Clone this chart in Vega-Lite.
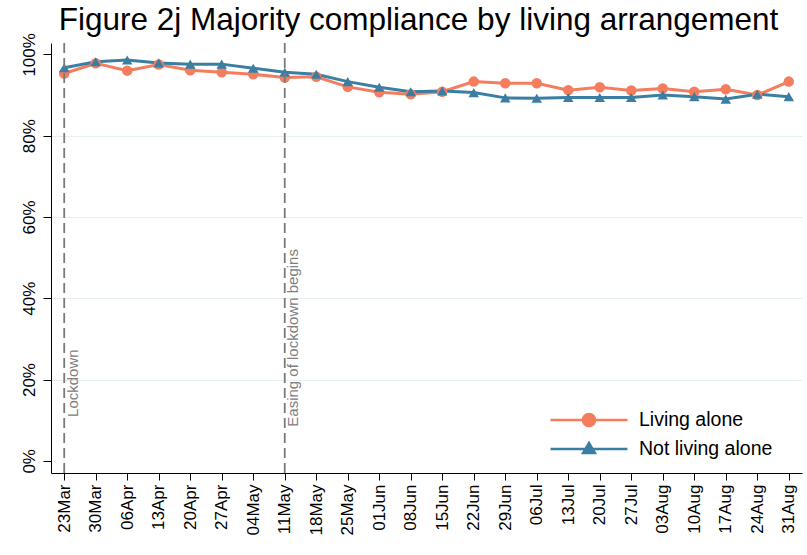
{
  "$schema": "https://vega.github.io/schema/vega-lite/v6.json",
  "width": 751,
  "height": 430,
  "autosize": {"type": "none"},
  "padding": {"left": 51, "top": 43, "right": 5, "bottom": 82},
  "background": "white",
  "title": {
    "text": "Figure 2j Majority compliance by living arrangement",
    "font": "Liberation Sans",
    "fontSize": 31.5,
    "fontWeight": "normal",
    "color": "#000000",
    "anchor": "middle",
    "baseline": "alphabetic",
    "offset": 11,
    "dx": -8,
    "dy": 40
  },
  "config": {
    "view": {"stroke": null},
    "font": "Liberation Sans",
    "axis": {"labelFont": "Liberation Sans"},
    "legend": {"labelFont": "Liberation Sans"}
  },
  "datasets": {
    "series": [
      {"week": "23Mar", "group": "Living alone", "pct": 95.3},
      {"week": "30Mar", "group": "Living alone", "pct": 97.8},
      {"week": "06Apr", "group": "Living alone", "pct": 96.0},
      {"week": "13Apr", "group": "Living alone", "pct": 97.5},
      {"week": "20Apr", "group": "Living alone", "pct": 96.1},
      {"week": "27Apr", "group": "Living alone", "pct": 95.6},
      {"week": "04May", "group": "Living alone", "pct": 95.1},
      {"week": "11May", "group": "Living alone", "pct": 94.3},
      {"week": "18May", "group": "Living alone", "pct": 94.5},
      {"week": "25May", "group": "Living alone", "pct": 92.0},
      {"week": "01Jun", "group": "Living alone", "pct": 90.7},
      {"week": "08Jun", "group": "Living alone", "pct": 90.2},
      {"week": "15Jun", "group": "Living alone", "pct": 90.8},
      {"week": "22Jun", "group": "Living alone", "pct": 93.3},
      {"week": "29Jun", "group": "Living alone", "pct": 92.9},
      {"week": "06Jul", "group": "Living alone", "pct": 92.9},
      {"week": "13Jul", "group": "Living alone", "pct": 91.2},
      {"week": "20Jul", "group": "Living alone", "pct": 91.9},
      {"week": "27Jul", "group": "Living alone", "pct": 91.1},
      {"week": "03Aug", "group": "Living alone", "pct": 91.6},
      {"week": "10Aug", "group": "Living alone", "pct": 90.8},
      {"week": "17Aug", "group": "Living alone", "pct": 91.4},
      {"week": "24Aug", "group": "Living alone", "pct": 90.0},
      {"week": "31Aug", "group": "Living alone", "pct": 93.3},
      {"week": "23Mar", "group": "Not living alone", "pct": 96.7},
      {"week": "30Mar", "group": "Not living alone", "pct": 98.2},
      {"week": "06Apr", "group": "Not living alone", "pct": 98.6},
      {"week": "13Apr", "group": "Not living alone", "pct": 97.9},
      {"week": "20Apr", "group": "Not living alone", "pct": 97.6},
      {"week": "27Apr", "group": "Not living alone", "pct": 97.6},
      {"week": "04May", "group": "Not living alone", "pct": 96.6},
      {"week": "11May", "group": "Not living alone", "pct": 95.6},
      {"week": "18May", "group": "Not living alone", "pct": 95.1},
      {"week": "25May", "group": "Not living alone", "pct": 93.3},
      {"week": "01Jun", "group": "Not living alone", "pct": 91.9},
      {"week": "08Jun", "group": "Not living alone", "pct": 90.8},
      {"week": "15Jun", "group": "Not living alone", "pct": 91.0},
      {"week": "22Jun", "group": "Not living alone", "pct": 90.6},
      {"week": "29Jun", "group": "Not living alone", "pct": 89.3},
      {"week": "06Jul", "group": "Not living alone", "pct": 89.2},
      {"week": "13Jul", "group": "Not living alone", "pct": 89.4},
      {"week": "20Jul", "group": "Not living alone", "pct": 89.4},
      {"week": "27Jul", "group": "Not living alone", "pct": 89.4},
      {"week": "03Aug", "group": "Not living alone", "pct": 90.0},
      {"week": "10Aug", "group": "Not living alone", "pct": 89.6},
      {"week": "17Aug", "group": "Not living alone", "pct": 89.0},
      {"week": "24Aug", "group": "Not living alone", "pct": 90.2},
      {"week": "31Aug", "group": "Not living alone", "pct": 89.6}
    ],
    "events": [
      {"week": "23Mar", "label": "Lockdown"},
      {"week": "11May", "label": "Easing of lockdown begins"}
    ]
  },
  "encoding": {
    "x": {
      "field": "week",
      "type": "ordinal",
      "sort": null,
      "scale": {"type": "point", "padding": 0.42,
        "domain": ["23Mar","30Mar","06Apr","13Apr","20Apr","27Apr","04May","11May","18May","25May","01Jun","08Jun","15Jun","22Jun","29Jun","06Jul","13Jul","20Jul","27Jul","03Aug","10Aug","17Aug","24Aug","31Aug"]},
      "axis": {
        "title": null,
        "labelAngle": -90,
        "labelFont": "Liberation Sans",
        "labelFontSize": 17,
        "labelColor": "#000000",
        "labelPadding": 4,
        "tickSize": 7,
        "tickColor": "#000000",
        "domainColor": "#000000",
        "tickWidth": 1,
        "domainWidth": 1,
        "grid": false
      }
    }
  },
  "layer": [
    {
      "data": {"name": "series"},
      "mark": {"type": "line", "strokeWidth": 3},
      "encoding": {
        "y": {
          "field": "pct",
          "type": "quantitative",
          "scale": {"domain": [-3, 102.8], "nice": false, "zero": false},
          "axis": {
            "title": null,
            "values": [0, 20, 40, 60, 80, 100],
            "labelExpr": "datum.value + '%'",
            "labelAngle": -90,
            "labelAlign": "center",
            "labelBaseline": "bottom",
            "labelFont": "Liberation Sans",
            "labelFontSize": 17,
            "labelColor": "#000000",
            "labelPadding": 5,
            "tickSize": 8,
            "tickColor": "#000000",
            "domainColor": "#000000",
            "grid": true,
            "gridColor": {"condition": {"test": "datum.value == 0 || datum.value == 100", "value": "transparent"}, "value": "#e6eff2"},
            "gridWidth": 1
          }
        },
        "color": {
          "field": "group",
          "type": "nominal",
          "scale": {"domain": ["Living alone", "Not living alone"], "range": ["#f47d5e", "#3a7fa3"]},
          "legend": {
            "title": null,
            "orient": "none",
            "legendX": 527,
            "legendY": 366,
            "labelFontSize": 19.5,
            "labelColor": "#000000",
            "symbolSize": 370,
            "symbolStrokeWidth": 2.6,
            "labelOffset": 39,
            "rowPadding": 5,
            "padding": 0,
            "encode": {
              "symbols": {
                "update": {
                  "shape": {"signal": "datum.value == 'Living alone' ? 'M-4,0H-0.62M0.62,0H4M0.62,0A0.62,0.62,0,1,1,-0.62,0A0.62,0.62,0,1,1,0.62,0Z' : 'M-4,0H4M0,-0.62L0.6,0.4L-0.6,0.4Z'"},
                  "fill": {"signal": "datum.value == 'Living alone' ? '#f47d5e' : '#3a7fa3'"},
                  "fillOpacity": {"value": 1}
                }
              }
            }
          }
        }
      }
    },
    {
      "data": {"name": "series"},
      "mark": {"type": "point", "filled": true, "opacity": 1, "size": 110},
      "encoding": {
        "y": {"field": "pct", "type": "quantitative"},
        "color": {"field": "group", "type": "nominal", "legend": null},
        "shape": {
          "condition": {"test": "datum.group == 'Living alone'", "value": "circle"},
          "value": "triangle-up"
        }
      }
    },
    {
      "data": {"name": "events"},
      "mark": {"type": "rule", "color": "#7a7a7a", "strokeWidth": 1.8, "strokeDash": [10, 5]},
      "encoding": {}
    },
    {
      "data": {"name": "events"},
      "transform": [{"filter": "datum.label == 'Lockdown'"}],
      "mark": {"type": "text", "angle": 270, "align": "left", "baseline": "top", "fontSize": 15, "color": "#808080", "dy": 1.5},
      "encoding": {
        "text": {"field": "label"},
        "y": {"datum": 10.8}
      }
    },
    {
      "data": {"name": "events"},
      "transform": [{"filter": "datum.label != 'Lockdown'"}],
      "mark": {"type": "text", "angle": 270, "align": "left", "baseline": "top", "fontSize": 15, "color": "#808080", "dy": 1.5},
      "encoding": {
        "text": {"field": "label"},
        "y": {"datum": 8.4}
      }
    }
  ]
}
